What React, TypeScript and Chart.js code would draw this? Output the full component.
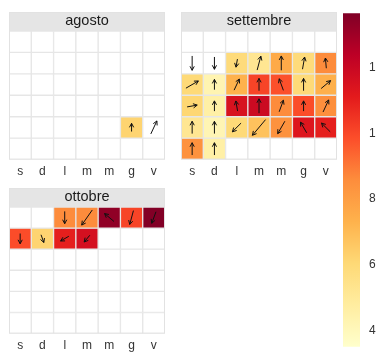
import React, { useEffect, useRef } from "react";
import { Chart, registerables } from "chart.js";
Chart.register(...registerables);

const N = null;
const dayLabels = ["s", "d", "l", "m", "m", "g", "v"];
const colorTicks = [4, 6, 8, 10, 12];
const scaleMin = 3.52;
const scaleMax = 13.64;
const palette = ["#FFFFCC", "#FFEDA0", "#FED976", "#FEB24C", "#FD8D3C", "#FC4E2A", "#E31A1C", "#BD0026", "#800026"];
const wsMax = 6;

// agosto
const agostoValues = [
  [N, N, N, N, N, N, N],
  [N, N, N, N, N, N, N],
  [N, N, N, N, N, N, N],
  [N, N, N, N, N, N, N],
  [N, N, N, N, N, 6.2, N],
  [N, N, N, N, N, N, N],
];
const agostoWs = [
  [N, N, N, N, N, N, N],
  [N, N, N, N, N, N, N],
  [N, N, N, N, N, N, N],
  [N, N, N, N, N, N, N],
  [N, N, N, N, N, 2.4, 4.2],
  [N, N, N, N, N, N, N],
];
const agostoWd = [
  [N, N, N, N, N, N, N],
  [N, N, N, N, N, N, N],
  [N, N, N, N, N, N, N],
  [N, N, N, N, N, N, N],
  [N, N, N, N, N, 0, 25],
  [N, N, N, N, N, N, N],
];

// settembre
const settembreValues = [
  [N, N, N, N, N, N, N],
  [N, N, 5.9, 5.2, 7.6, 5.9, 8.6],
  [6.0, 4.3, 7.3, 10.1, 9.8, 6.0, 7.4],
  [6.1, 4.6, 11.5, 11.9, 8.6, 9.9, 8.5],
  [5.2, 4.2, 6.0, 6.8, 8.4, 11.3, 11.0],
  [8.4, 4.6, N, N, N, N, N],
];
const settembreWs = [
  [N, N, N, N, N, N, N],
  [4.2, 3.6, 2.4, 4.2, 4.2, 3.6, 3.0],
  [4.2, 3.0, 3.6, 3.6, 3.6, 3.6, 3.6],
  [3.0, 3.0, 3.0, 4.2, 3.6, 3.0, 3.9],
  [3.6, 3.6, 3.6, 6.0, 4.2, 3.6, 3.6],
  [3.6, 3.6, N, N, N, N, N],
];
const settembreWd = [
  [N, N, N, N, N, N, N],
  [180, 180, 190, 15, 0, 10, 355],
  [60, 0, 25, 0, 340, 0, 50],
  [80, 0, 350, 0, 20, 0, 25],
  [0, 0, 225, 220, 210, 330, 315],
  [0, 0, N, N, N, N, N],
];

// ottobre
const ottobreValues = [
  [N, N, 8.6, 8.6, 13.3, 10.1, 13.6],
  [9.9, 6.2, 11.0, 11.6, N, N, N],
  [N, N, N, N, N, N, N],
  [N, N, N, N, N, N, N],
  [N, N, N, N, N, N, N],
  [N, N, N, N, N, N, N],
];
const ottobreWs = [
  [N, N, 3.6, 5.4, 3.6, 4.2, 3.6],
  [3.0, 2.4, 2.8, 2.6, N, N, N],
  [N, N, N, N, N, N, N],
  [N, N, N, N, N, N, N],
  [N, N, N, N, N, N, N],
  [N, N, N, N, N, N, N],
];
const ottobreWd = [
  [N, N, 180, 215, 310, 195, 200],
  [180, 160, 240, 220, N, N, N],
  [N, N, N, N, N, N, N],
  [N, N, N, N, N, N, N],
  [N, N, N, N, N, N, N],
  [N, N, N, N, N, N, N],
];

const FONT = "'Liberation Sans', Arial, Helvetica, sans-serif";

function hexToRgb(h: string) {
  const n = parseInt(h.slice(1), 16);
  return [(n >> 16) & 255, (n >> 8) & 255, n & 255];
}
function colorFor(v: number | null) {
  if (v === null || v === undefined) return "#FFFFFF";
  let t = (v - scaleMin) / (scaleMax - scaleMin);
  t = Math.max(0, Math.min(1, t)) * (palette.length - 1);
  const i = Math.min(Math.floor(t), palette.length - 2);
  const f = t - i;
  const a = hexToRgb(palette[i]);
  const b = hexToRgb(palette[i + 1]);
  const c = a.map((x, k) => Math.round(x + (b[k] - x) * f));
  return `rgb(${c[0]},${c[1]},${c[2]})`;
}

function drawArrow(ctx: CanvasRenderingContext2D, cx: number, cy: number, deg: number, len: number) {
  const a = (deg * Math.PI) / 180;
  const dx = Math.sin(a);
  const dy = -Math.cos(a);
  const x0 = cx - (dx * len) / 2;
  const y0 = cy - (dy * len) / 2;
  const x1 = cx + (dx * len) / 2;
  const y1 = cy + (dy * len) / 2;
  ctx.beginPath();
  ctx.moveTo(x0, y0);
  ctx.lineTo(x1, y1);
  const hs = 4.5;
  const th = (28 * Math.PI) / 180;
  const ux = -dx;
  const uy = -dy;
  for (const s of [-1, 1]) {
    const phi = s * th;
    const bx = ux * Math.cos(phi) - uy * Math.sin(phi);
    const by = ux * Math.sin(phi) + uy * Math.cos(phi);
    ctx.moveTo(x1, y1);
    ctx.lineTo(x1 + bx * hs, y1 + by * hs);
  }
  ctx.stroke();
}

type PanelProps = {
  title: string;
  values: (number | null)[][];
  ws: (number | null)[][];
  wd: (number | null)[][];
  left: number;
  top: number;
  width: number;
  height: number;
};

function Panel({ title, values, ws, wd, left, top, width, height }: PanelProps) {
  const ref = useRef<HTMLCanvasElement>(null);
  useEffect(() => {
    if (!ref.current) return;
    const stripPlugin = {
      id: "strip",
      beforeDraw(chart: any) {
        const t = chart.titleBlock;
        const area = chart.chartArea;
        const ctx = chart.ctx;
        ctx.save();
        ctx.fillStyle = "#E5E5E5";
        ctx.fillRect(area.left, t.top, area.right - area.left, t.bottom - t.top);
        ctx.restore();
      },
      afterDraw(chart: any) {
        const t = chart.titleBlock;
        const area = chart.chartArea;
        const ctx = chart.ctx;
        ctx.save();
        ctx.strokeStyle = "#E2E2E2";
        ctx.lineWidth = 1;
        ctx.strokeRect(area.left + 0.5, t.top + 0.5, area.right - area.left - 1, area.bottom - t.top - 1);
        ctx.restore();
      },
    };
    const arrowPlugin = {
      id: "arrows",
      afterDatasetsDraw(chart: any) {
        const ctx = chart.ctx;
        const xs = chart.scales.x;
        const ys = chart.scales.y;
        const cellW = Math.abs(xs.getPixelForValue(1) - xs.getPixelForValue(0));
        ctx.save();
        ctx.strokeStyle = "#111";
        ctx.lineWidth = 1;
        wd.forEach((row, r) =>
          row.forEach((d, c) => {
            const s = ws[r][c];
            if (d === null || s === null) return;
            const cx = xs.getPixelForValue(c);
            const cy = ys.getPixelForValue(r + 0.5);
            drawArrow(ctx, cx, cy, d, (s / wsMax) * cellW * 0.92);
          })
        );
        ctx.restore();
      },
    };
    const datasets = values.map((row, r) => ({
      data: row.map(() => [r, r + 1]),
      backgroundColor: row.map((v) => colorFor(v)),
      borderColor: "#E6E6E6",
      borderWidth: 1,
      borderSkipped: false,
      grouped: false,
      barPercentage: 1,
      categoryPercentage: 1,
    }));
    const chart = new Chart(ref.current, {
      type: "bar",
      data: { labels: dayLabels, datasets: datasets as any },
      options: {
        responsive: false,
        animation: false,
        events: [],
        layout: { padding: 0 },
        plugins: {
          legend: { display: false },
          tooltip: { enabled: false },
          title: {
            display: true,
            text: title,
            color: "#1A1A1A",
            font: { family: FONT, size: 14.5, weight: "normal", lineHeight: 1.15 },
            padding: { top: 1, bottom: 1.3 },
          },
        },
        scales: {
          x: {
            grid: { display: false, drawTicks: false, tickLength: 0 },
            border: { display: false },
            ticks: { color: "#333", font: { family: FONT, size: 12 }, padding: 5, autoSkip: false, maxRotation: 0 },
          },
          y: { display: false, min: 0, max: 6, reverse: true },
        },
      },
      plugins: [stripPlugin, arrowPlugin],
    });
    return () => chart.destroy();
  }, []);
  return (
    <canvas
      ref={ref}
      width={width}
      height={height}
      style={{ position: "absolute", left, top, width, height, display: "block" }}
    />
  );
}

function ColorBar() {
  const ref = useRef<HTMLCanvasElement>(null);
  useEffect(() => {
    if (!ref.current) return;
    const chart = new Chart(ref.current, {
      type: "bar",
      data: {
        labels: [""],
        datasets: [
          {
            data: [[scaleMin, scaleMax]] as any,
            backgroundColor: (c: any) => {
              const { chartArea, ctx, scales } = c.chart;
              if (!chartArea) return palette[0];
              const g = ctx.createLinearGradient(0, scales.y.getPixelForValue(scaleMin), 0, scales.y.getPixelForValue(scaleMax));
              palette.forEach((p, i) => g.addColorStop(i / (palette.length - 1), p));
              return g;
            },
            borderWidth: 0,
            barPercentage: 1,
            categoryPercentage: 1,
          },
        ],
      },
      options: {
        responsive: false,
        animation: false,
        events: [],
        layout: { padding: 0 },
        plugins: { legend: { display: false }, tooltip: { enabled: false } },
        scales: {
          x: { display: false },
          y: {
            position: "right",
            min: scaleMin,
            max: scaleMax,
            grid: { display: false, drawTicks: false, tickLength: 0 },
            border: { display: false },
            afterBuildTicks: (s: any) => {
              s.ticks = colorTicks.map((v) => ({ value: v }));
            },
            afterFit: (s: any) => {
              s.width = 16;
            },
            ticks: { color: "#333", font: { family: FONT, size: 12 }, padding: 9 },
          },
        },
      },
    });
    return () => chart.destroy();
  }, []);
  return (
    <canvas
      ref={ref}
      width={33}
      height={366}
      style={{ position: "absolute", left: 343, top: -3, width: 33, height: 366, display: "block" }}
    />
  );
}

export default function App() {
  return (
    <div style={{ position: "fixed", left: 0, top: 0, width: 376, height: 358, background: "#fff", overflow: "hidden" }}>
      <Panel title="agosto" values={agostoValues} ws={agostoWs} wd={agostoWd} left={9} top={12} width={156} height={172} />
      <Panel title="settembre" values={settembreValues} ws={settembreWs} wd={settembreWd} left={181} top={12} width={156} height={172} />
      <Panel title="ottobre" values={ottobreValues} ws={ottobreWs} wd={ottobreWd} left={9} top={188} width={156} height={170} />
      <ColorBar />
    </div>
  );
}
